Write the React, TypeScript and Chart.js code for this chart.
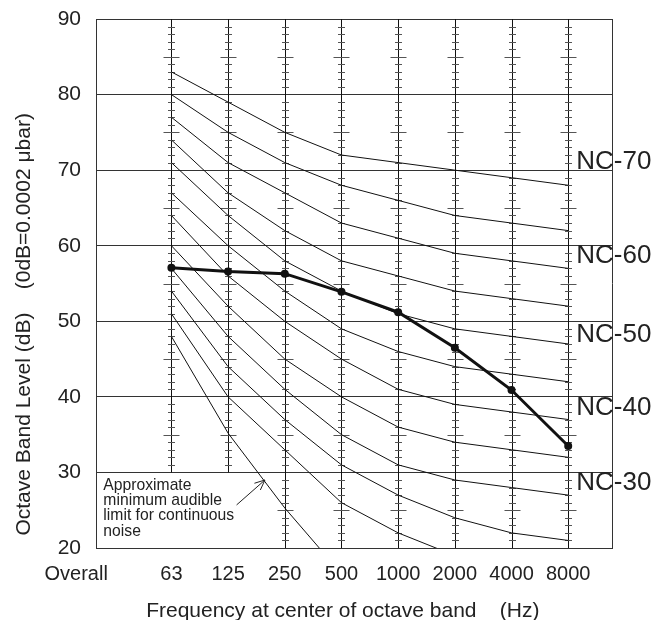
import { useEffect, useRef } from 'react';
import { Chart, registerables } from 'chart.js';

Chart.register(...registerables);

// ---- data ----
const bands = ['63', '125', '250', '500', '1000', '2000', '4000', '8000'];
const overallLabel = 'Overall';
const overallPos = -1.68;
const measured = [57.1, 56.6, 56.3, 53.9, 51.2, 46.5, 40.9, 33.5];
const nc20 = [51, 40, 33, 26, 22, 19, 17, 16];
const nc25 = [54, 44, 37, 31, 27, 24, 22, 21];
const nc30 = [57, 48, 41, 35, 31, 29, 28, 27];
const nc35 = [60, 52, 45, 40, 36, 34, 33, 32];
const nc40 = [64, 56, 50, 45, 41, 39, 38, 37];
const nc45 = [67, 60, 54, 49, 46, 44, 43, 42];
const nc50 = [71, 64, 58, 54, 51, 49, 48, 47];
const nc55 = [74, 67, 62, 58, 56, 54, 53, 52];
const nc60 = [77, 71, 67, 63, 61, 59, 58, 57];
const nc65 = [80, 75, 71, 68, 66, 64, 63, 62];
const nc70 = [83, 79, 75, 72, 71, 70, 69, 68];
const minAudible = [48, 35.2, 25.3, 16.6];
const ncLabels = ['NC-70', 'NC-60', 'NC-50', 'NC-40', 'NC-30'];
const ncLabelLevels = [70.1, 57.7, 47.3, 37.6, 27.7];
const noteLines = ['Approximate', 'minimum audible', 'limit for continuous', 'noise'];
const notePos = { x: -1.2, y: 27.7 };
const arrowFrom = { x: 1.15, y: 25.7 };
const arrowTo = { x: 1.65, y: 29.0 };
const yMin = 20;
const yMax = 90;
const yStep = 10;
const xTitle = 'Frequency at center of octave band    (Hz)';
const yTitle = 'Octave Band Level (dB)    (0dB=0.0002 \u03bcbar)';

const FONT = '"Liberation Sans", Arial, Helvetica, sans-serif';
const TEXT = '#222';

const toPts = (arr: number[]) => arr.map((v, i) => ({ x: i, y: v }));

const decor = {
  id: 'decor',
  beforeDatasetsDraw(chart: any) {
    const { ctx, scales } = chart;
    const x = scales.x;
    const y = scales.y;
    ctx.save();
    bands.forEach((_, i) => {
      const px = Math.round(x.getPixelForValue(i)) + 0.5;
      const lo = i < 2 ? 30 : yMin;
      ctx.strokeStyle = '#111';
      ctx.lineWidth = 1;
      ctx.beginPath();
      ctx.moveTo(px, y.getPixelForValue(yMax));
      ctx.lineTo(px, y.getPixelForValue(lo));
      ctx.stroke();
      ctx.strokeStyle = '#555';
      ctx.beginPath();
      for (let v = lo + 1; v < yMax; v++) {
        if (v % 10 === 0) continue;
        const py = Math.round(y.getPixelForValue(v)) + 0.5;
        const h = v % 5 === 0 ? 8 : 3.5;
        ctx.moveTo(px - h, py);
        ctx.lineTo(px + h, py);
      }
      ctx.stroke();
    });
    ctx.restore();
  },
  afterDatasetsDraw(chart: any) {
    const { ctx, scales, chartArea } = chart;
    const x = scales.x;
    const y = scales.y;
    ctx.save();
    // right border
    ctx.strokeStyle = '#333';
    ctx.lineWidth = 1;
    ctx.beginPath();
    const rx = Math.round(chartArea.right) - 0.5;
    ctx.moveTo(rx, chartArea.top);
    ctx.lineTo(rx, chartArea.bottom);
    ctx.stroke();

    // NC labels
    ctx.fillStyle = TEXT;
    ctx.font = `26px ${FONT}`;
    ctx.textAlign = 'left';
    ctx.textBaseline = 'alphabetic';
    const lx = x.getPixelForValue(bands.length - 1) + 8;
    ncLabels.forEach((t, i) => {
      ctx.fillText(t, lx, y.getPixelForValue(ncLabelLevels[i]));
    });

    // note
    ctx.font = `15.7px ${FONT}`;
    const nx = x.getPixelForValue(notePos.x);
    const ny = y.getPixelForValue(notePos.y);
    noteLines.forEach((t, i) => ctx.fillText(t, nx, ny + i * 15.3));

    // arrow
    const ax0 = x.getPixelForValue(arrowFrom.x);
    const ay0 = y.getPixelForValue(arrowFrom.y);
    const ax1 = x.getPixelForValue(arrowTo.x);
    const ay1 = y.getPixelForValue(arrowTo.y);
    const ang = Math.atan2(ay1 - ay0, ax1 - ax0);
    ctx.strokeStyle = '#222';
    ctx.lineWidth = 1;
    ctx.beginPath();
    ctx.moveTo(ax0, ay0);
    ctx.lineTo(ax1, ay1);
    const L = 11;
    const a = 0.42;
    ctx.moveTo(ax1 - L * Math.cos(ang - a), ay1 - L * Math.sin(ang - a));
    ctx.lineTo(ax1, ay1);
    ctx.lineTo(ax1 - L * Math.cos(ang + a), ay1 - L * Math.sin(ang + a));
    ctx.stroke();
    ctx.restore();
  },
};

export default function App() {
  const ref = useRef<HTMLCanvasElement | null>(null);

  useEffect(() => {
    if (!ref.current) return;
    const thin = (arr: number[]) => ({
      data: toPts(arr),
      borderColor: '#111',
      borderWidth: 1,
      pointRadius: 0,
      fill: false,
      tension: 0,
    });
    const chart = new Chart(ref.current, {
      type: 'line',
      data: {
        datasets: [
          {
            data: toPts(measured),
            borderColor: '#111',
            backgroundColor: '#111',
            borderWidth: 3,
            pointRadius: 4,
            pointBackgroundColor: '#111',
            pointBorderWidth: 0,
            fill: false,
          },
          thin(nc70),
          thin(nc65),
          thin(nc60),
          thin(nc55),
          thin(nc50),
          thin(nc45),
          thin(nc40),
          thin(nc35),
          thin(nc30),
          thin(nc25),
          thin(nc20),
          thin(minAudible),
        ] as any,
      },
      options: {
        responsive: false,
        animation: false,
        devicePixelRatio: 1,
        layout: { padding: { top: 19, right: 59, bottom: 0, left: 0 } },
        plugins: { legend: { display: false }, tooltip: { enabled: false } },
        scales: {
          x: {
            type: 'linear',
            min: -1.33,
            max: 7.79,
            grid: { display: false, drawTicks: false },
            border: { display: false },
            afterBuildTicks: (s: any) => {
              s.ticks = [overallPos, ...bands.map((_, i) => i)].map((v) => ({ value: v }));
            },
            afterFit: (s: any) => {
              s.height = 80;
              s.paddingLeft = 0;
              s.paddingRight = 0;
            },
            ticks: {
              autoSkip: false,
              maxRotation: 0,
              padding: 14,
              color: TEXT,
              font: { family: FONT, size: 20 },
              callback: (_v: any, i: number) => (i === 0 ? overallLabel : bands[i - 1]),
            },
            title: {
              display: true,
              text: xTitle + '    ',
              color: TEXT,
              font: { family: FONT, size: 21, lineHeight: 1.2 },
              padding: { top: 0, bottom: 4.5 },
            },
          },
          y: {
            type: 'linear',
            min: yMin,
            max: yMax,
            grid: { color: '#333', lineWidth: 1, drawTicks: false },
            border: { display: true, color: '#333', width: 1 },
            afterFit: (s: any) => {
              s.width = 96;
              s.paddingTop = 0;
              s.paddingBottom = 0;
            },
            ticks: {
              stepSize: yStep,
              padding: 15,
              color: TEXT,
              font: { family: FONT, size: 21 },
            },
            title: {
              display: true,
              text: yTitle + '              ',
              color: TEXT,
              font: { family: FONT, size: 21, lineHeight: 1.2 },
              padding: { top: 12, bottom: 0 },
            },
          },
        },
      } as any,
      plugins: [decor],
    });
    return () => chart.destroy();
  }, []);

  return (
    <div style={{ margin: -8 }}>
      <canvas ref={ref} width={672} height={628} style={{ display: 'block' }} />
    </div>
  );
}
